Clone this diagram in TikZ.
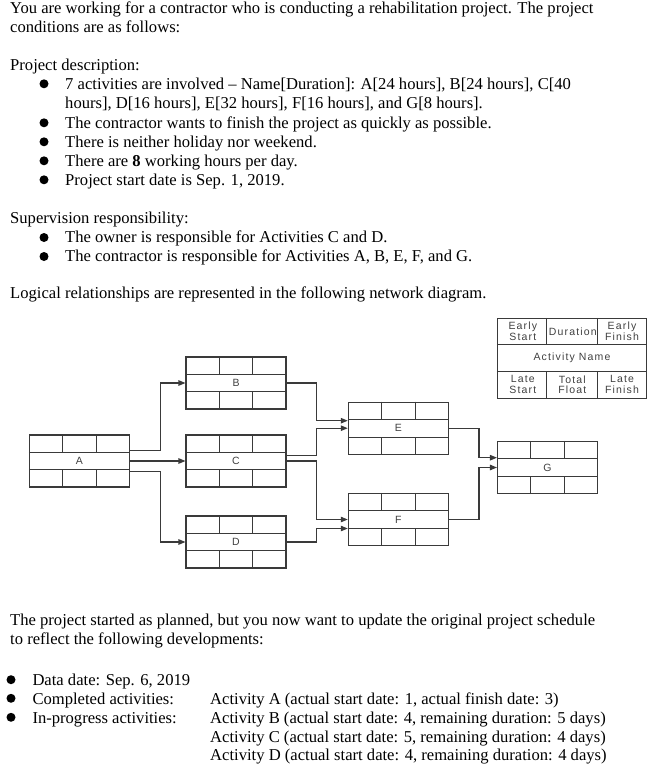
\documentclass[tikz,border=0pt]{standalone}
\usepackage{fontspec}
\setmainfont{Liberation Serif}
\newfontfamily\diagfont[LetterSpace=11]{Liberation Sans}
\usepackage{xcolor}
\usepackage{tikz}
\usetikzlibrary{arrows.meta, calc}
\definecolor{linegray}{HTML}{3A3A3A}
\definecolor{labelgray}{HTML}{404040}

\begin{document}
\begin{tikzpicture}[
    x=1pt,
    y=-1pt,
    >={Triangle[length=7pt, width=5.5pt]},
    txt/.style={anchor=base west, inner sep=0pt, font=\fontsize{16.6}{19}\selectfont},
    act/.style={draw=linegray, line width=1.1pt, minimum width=100pt, minimum height=52pt, inner sep=0pt, text=labelgray, font=\diagfont\fontsize{10.5}{10.5}\selectfont},
    grid/.style={draw=linegray, line width=1.1pt},
    conn/.style={->, draw=linegray, line width=1.1pt},
    cell/.style={inner sep=0pt, align=center, text=labelgray, font=\diagfont\fontsize{10.5}{10.5}\selectfont}
]
\useasboundingbox (0,0) rectangle (662,771);
% Intro text
\node[txt] (intro1) at (10,13.3) {You are working for a contractor who is conducting a rehabilitation project. The project};
\node[txt] (intro2) at (10,32.3) {conditions are as follows:};
\node[txt] (desc) at (10,70) {Project description:};
\node[txt] (desc1) at (65,89) {7 activities are involved -- Name[Duration]: A[24 hours], B[24 hours], C[40};
\node[txt] (desc1b) at (65,108) {hours], D[16 hours], E[32 hours], F[16 hours], and G[8 hours].};
\node[txt] (desc2) at (65,128) {The contractor wants to finish the project as quickly as possible.};
\node[txt] (desc3) at (65,147) {There is neither holiday nor weekend.};
\node[txt] (desc4) at (65,166) {There are \textbf{8} working hours per day.};
\node[txt] (desc5) at (65,185) {Project start date is Sep. 1, 2019.};
\node[txt] (sup) at (10,223.3) {Supervision responsibility:};
\node[txt] (sup1) at (65,242.7) {The owner is responsible for Activities C and D.};
\node[txt] (sup2) at (65,261.7) {The contractor is responsible for Activities A, B, E, F, and G.};
\node[txt] (logic) at (10,298) {Logical relationships are represented in the following network diagram.};
\foreach \y in {89,128,147,166,185,242.7,261.7} {
    \fill (44,\y-5.2) circle (4.5pt);
}
% Legend
\node[act, minimum width=149.4pt, minimum height=80pt] (legend) at (572,358.3) {};
\node[cell] (es) at (522.8,331.3) {Early\\Start};
\node[cell] (dur) at (572.8,331.3) {Duration};
\node[cell] (ef) at (622,331.3) {Early\\Finish};
\node[cell] (an) at (572,357.5) {Activity Name};
\node[cell] (ls) at (522.8,384.5) {Late\\Start};
\node[cell] (tf) at (572.3,384.5) {Total\\Float};
\node[cell] (lf) at (622,384.5) {Late\\Finish};
% Activities
\node[act] (A) at (79.3,461) {A};
\node[act] (B) at (236,383) {B};
\node[act] (C) at (236,461) {C};
\node[act] (D) at (236,542) {D};
\node[act] (E) at (398.3,428.2) {E};
\node[act] (F) at (398.3,519.5) {F};
\node[act] (G) at (547.5,467.5) {G};
% Cells
\foreach \n in {A,B,C,D,E,F,G,legend} {
    \coordinate (r1) at ($(\n.north west)!1/3!(\n.south west)$);
    \coordinate (r2) at ($(\n.north west)!2/3!(\n.south west)$);
    \draw[grid] (r1) -- (r1 -| \n.east) (r2) -- (r2 -| \n.east);
    \foreach \f in {1,2} {
        \coordinate (t) at ($(\n.north west)!\f/3!(\n.north east)$);
        \coordinate (b) at ($(\n.south west)!\f/3!(\n.south east)$);
        \draw[grid] (t) -- (t |- r1) (b) -- (b |- r2);
    }
}
% Links
\coordinate (fanA) at (160.7,0);
\coordinate (fanB) at (316.7,0);
\coordinate (fanC) at (479,0);
\draw[conn] ([yshift=10.3pt]A.east) -- ([yshift=10.3pt]A.east -| fanA) |- (B.west);
\draw[conn] (A.east) -- (C.west);
\draw[conn] ([yshift=-10.7pt]A.east) -- ([yshift=-10.7pt]A.east -| fanA) |- (D.west);
\draw[conn] (B.east) -- (B.east -| fanB) |- ([yshift=7.5pt]E.west);
\draw[conn] ([yshift=5.3pt]C.east) -- ([yshift=5.3pt]C.east -| fanB) |- (E.west);
\draw[conn] (C.east) -- (C.east -| fanB) |- (F.west);
\draw[conn] (D.east) -- (D.east -| fanB) |- ([yshift=-9pt]F.west);
\draw[conn] (E.east) -- (E.east -| fanC) |- ([yshift=9.8pt]G.west);
\draw[conn] (F.east) -- (F.east -| fanC) |- (G.west);
% Update text
\node[txt] (upd1) at (10,625.7) {The project started as planned, but you now want to update the original project schedule};
\node[txt] (upd2) at (10,644.3) {to reflect the following developments:};
\node[txt] (dd) at (32.3,685.7) {Data date: Sep. 6, 2019};
\node[txt] (comp) at (32.3,704.3) {Completed activities:};
\node[txt] (prog) at (32.3,723.3) {In-progress activities:};
\node[txt] (actA) at (210,704.3) {Activity A (actual start date: 1, actual finish date: 3)};
\node[txt] (actB) at (210,723.3) {Activity B (actual start date: 4, remaining duration: 5 days)};
\node[txt] (actC) at (210,742) {Activity C (actual start date: 5, remaining duration: 4 days)};
\node[txt] (actD) at (210,760.7) {Activity D (actual start date: 4, remaining duration: 4 days)};
\foreach \y in {685.7,704.3,723.3} {
    \fill (11,\y-6) circle (4.5pt);
}
\end{tikzpicture}
\end{document}
